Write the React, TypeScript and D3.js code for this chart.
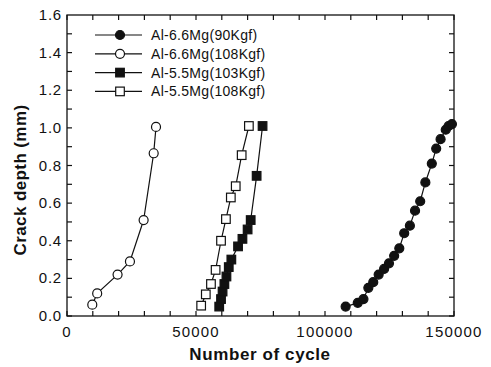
import React from 'react';
import * as d3 from 'd3';

// Al-6.6Mg (90 Kgf) - filled circles
const mg66_90x = [108000, 112700, 114900, 116800, 118700, 120800, 122900, 124800, 126800, 128800, 130700, 132900, 134900, 136900, 138900, 141400, 143100, 144800, 146800, 147900, 149200];
const mg66_90y = [0.05, 0.07, 0.09, 0.15, 0.18, 0.22, 0.25, 0.28, 0.32, 0.36, 0.44, 0.48, 0.56, 0.61, 0.71, 0.81, 0.89, 0.94, 0.99, 1.01, 1.02];

// Al-6.6Mg (108 Kgf) - open circles
const mg66_108x = [9800, 11700, 19600, 24400, 29700, 33600, 34500];
const mg66_108y = [0.06, 0.12, 0.22, 0.29, 0.51, 0.865, 1.005];

// Al-5.5Mg (103 Kgf) - filled squares
const mg55_103x = [59000, 59700, 60300, 61000, 61800, 62700, 63700, 66300, 68000, 70000, 71200, 73500, 75800];
const mg55_103y = [0.05, 0.09, 0.13, 0.17, 0.21, 0.26, 0.30, 0.37, 0.41, 0.46, 0.51, 0.745, 1.01];

// Al-5.5Mg (108 Kgf) - open squares
const mg55_108x = [52000, 53800, 55800, 57600, 59700, 61600, 63500, 65400, 67700, 70500];
const mg55_108y = [0.055, 0.115, 0.17, 0.245, 0.40, 0.515, 0.63, 0.69, 0.855, 1.01];

const seriesNames = ['Al-6.6Mg(90Kgf)', 'Al-6.6Mg(108Kgf)', 'Al-5.5Mg(103Kgf)', 'Al-5.5Mg(108Kgf)'];
const xTickLabels = [0, 50000, 100000, 150000];
const yTickLabels = [0, 0.2, 0.4, 0.6, 0.8, 1.0, 1.2, 1.4, 1.6];

const W = 491;
const H = 367;
const m = { left: 67, right: 37, top: 15, bottom: 51 };
const font = '"Liberation Sans", Arial, Helvetica, sans-serif';

type Kind = { shape: 'circle' | 'square'; filled: boolean };
const kinds: Kind[] = [
  { shape: 'circle', filled: true },
  { shape: 'circle', filled: false },
  { shape: 'square', filled: true },
  { shape: 'square', filled: false },
];

function Marker({ x, y, k }: { x: number; y: number; k: Kind }) {
  const fill = k.filled ? '#111' : '#fff';
  if (k.shape === 'circle') {
    return <circle cx={x} cy={y} r={4.5} fill={fill} stroke="#111" strokeWidth={1.2} />;
  }
  return <rect x={x - 4.3} y={y - 4.3} width={8.6} height={8.6} fill={fill} stroke="#111" strokeWidth={1.2} />;
}

export default function App() {
  const x = d3.scaleLinear().domain([0, 150000]).range([m.left, W - m.right]);
  const y = d3.scaleLinear().domain([0, 1.6]).range([H - m.bottom, m.top]);

  const series = [
    { xs: mg66_90x, ys: mg66_90y },
    { xs: mg66_108x, ys: mg66_108y },
    { xs: mg55_103x, ys: mg55_103y },
    { xs: mg55_108x, ys: mg55_108y },
  ];

  const line = d3.line<[number, number]>().x(d => x(d[0])).y(d => y(d[1]));

  const xMinor = d3.range(0, 150001, 10000);
  const yMinor = d3.range(0, 16).map(i => i / 10);
  const x0 = m.left, x1 = W - m.right, y0 = H - m.bottom, y1 = m.top;
  const tl = 5;

  return (
    <svg width={W} height={H} style={{ position: 'absolute', left: 0, top: 0, background: '#fff' }}>
      <rect x={x0} y={y1} width={x1 - x0} height={y0 - y1} fill="none" stroke="#111" strokeWidth={1.3} />
      {xMinor.map(v => (
        <g key={'xt' + v}>
          <line x1={x(v)} x2={x(v)} y1={y0} y2={y0 - tl} stroke="#111" strokeWidth={1.2} />
          <line x1={x(v)} x2={x(v)} y1={y1} y2={y1 + tl} stroke="#111" strokeWidth={1.2} />
        </g>
      ))}
      {yMinor.map(v => (
        <g key={'yt' + v}>
          <line x1={x0} x2={x0 + tl} y1={y(v)} y2={y(v)} stroke="#111" strokeWidth={1.2} />
          <line x1={x1} x2={x1 - tl} y1={y(v)} y2={y(v)} stroke="#111" strokeWidth={1.2} />
        </g>
      ))}
      {xTickLabels.map(v => (
        <text key={'xl' + v} x={x(v)} y={y0 + 21} textAnchor="middle" fontFamily={font} fontSize={15} letterSpacing={1.2} fill="#111">
          {v}
        </text>
      ))}
      {yTickLabels.map(v => (
        <text key={'yl' + v} x={x0 - 5} y={y(v) + 5} textAnchor="end" fontFamily={font} fontSize={15} letterSpacing={0.8} fill="#111">
          {v.toFixed(1)}
        </text>
      ))}
      <text x={260} y={360} textAnchor="middle" fontFamily={font} fontSize={17} letterSpacing={0.6} fontWeight="bold" fill="#111">
        Number of cycle
      </text>
      <text transform={`translate(26, 180) rotate(-90)`} textAnchor="middle" fontFamily={font} fontSize={17} letterSpacing={0.4} fontWeight="bold" fill="#111">
        Crack depth (mm)
      </text>

      {series.map((s, i) => {
        const pts = s.xs.map((v, j) => [v, s.ys[j]] as [number, number]);
        return (
          <g key={'s' + i}>
            <path d={line(pts) || ''} fill="none" stroke="#111" strokeWidth={1.2} />
            {pts.map((p, j) => <Marker key={j} x={x(p[0])} y={y(p[1])} k={kinds[i]} />)}
          </g>
        );
      })}

      {seriesNames.map((name, i) => {
        const ly = 35 + i * 18.8;
        return (
          <g key={'lg' + i}>
            <line x1={95} x2={142} y1={ly} y2={ly} stroke="#111" strokeWidth={1.2} />
            <Marker x={120} y={ly} k={kinds[i]} />
            <text x={151} y={ly + 5} fontFamily={font} fontSize={14} letterSpacing={0.3} fill="#111">{name}</text>
          </g>
        );
      })}
    </svg>
  );
}
